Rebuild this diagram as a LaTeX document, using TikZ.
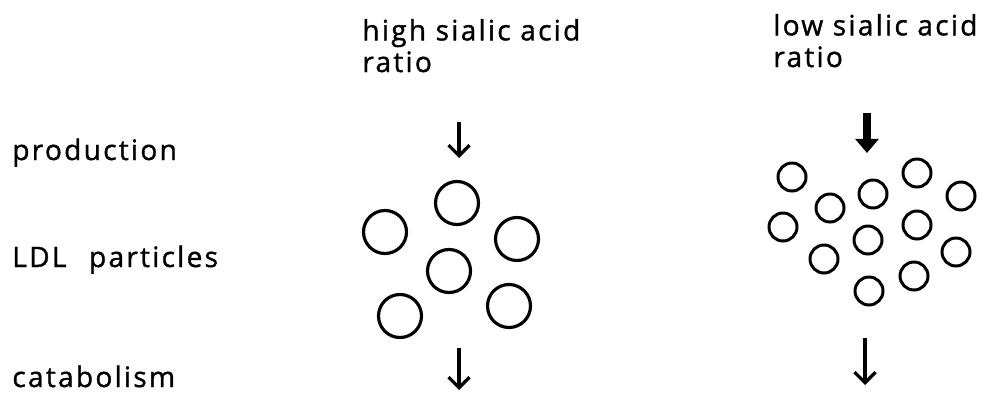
\documentclass[tikz,border=0pt]{standalone}
\usepackage{fontspec}
\setmainfont{Open Sans}[LetterSpace=8, FakeBold=1.2]
\usetikzlibrary{arrows.meta}

\begin{document}
\begin{tikzpicture}[x=0.02cm, y=-0.02cm,
label/.style={anchor=base west, inner sep=0pt, text depth=0pt, font=\fontsize{16}{19}\selectfont},
head/.style={anchor=base west, inner sep=0pt, align=left, font=\fontsize{16}{18}\selectfont},
bigparticle/.style={circle, draw, line width=1.8pt, minimum size=0.86cm, inner sep=0pt},
smallparticle/.style={circle, draw, line width=1.7pt, minimum size=0.56cm, inner sep=0pt},
arrow/.style={-{Straight Barb[length=6pt, width=12pt]}, line width=1.9pt},
bigarrow/.style={-{Triangle[length=8pt, width=13pt]}, line width=4.6pt}
]
\useasboundingbox (0,0) rectangle (1003,392);

% column headings
\node[head] (hiHead) at (362,72) {high sialic acid\\ratio};
\node[head] (loHead) at (773,67) {low sialic acid\\ratio};

% row labels
\node[label] (prod) at (12,160) {production};
\node[label] (ldl) at (12,267) {LDL\hspace{0.8em}particles};
\node[label] (cata) at (12,387) {catabolism};

% high ratio: few large particles
\foreach \x/\y [count=\i] in {385/232, 457/203, 517/239, 449/271, 400/316, 509/306}
  \node[bigparticle] (hi\i) at (\x,\y) {};

% low ratio: many small particles
\foreach \x/\y [count=\i] in {792/177, 783/227, 830/208, 824/259, 873/194, 868/240,
                              869/291, 917/173, 917/225, 914/276, 961/196, 956/252}
  \node[smallparticle] (lo\i) at (\x,\y) {};

% production and catabolism arrows
\coordinate (hiProdA) at (459,122);
\coordinate (hiProdB) at (459,158);
\coordinate (loProdA) at (867,113);
\coordinate (loProdB) at (867,153);
\coordinate (hiCataA) at (459,348);
\coordinate (hiCataB) at (459,390);
\coordinate (loCataA) at (865,338);
\coordinate (loCataB) at (865,385);

\draw[arrow] (hiProdA) -- (hiProdB);
\draw[bigarrow] (loProdA) -- (loProdB);
\draw[arrow] (hiCataA) -- (hiCataB);
\draw[arrow] (loCataA) -- (loCataB);
\end{tikzpicture}
\end{document}
